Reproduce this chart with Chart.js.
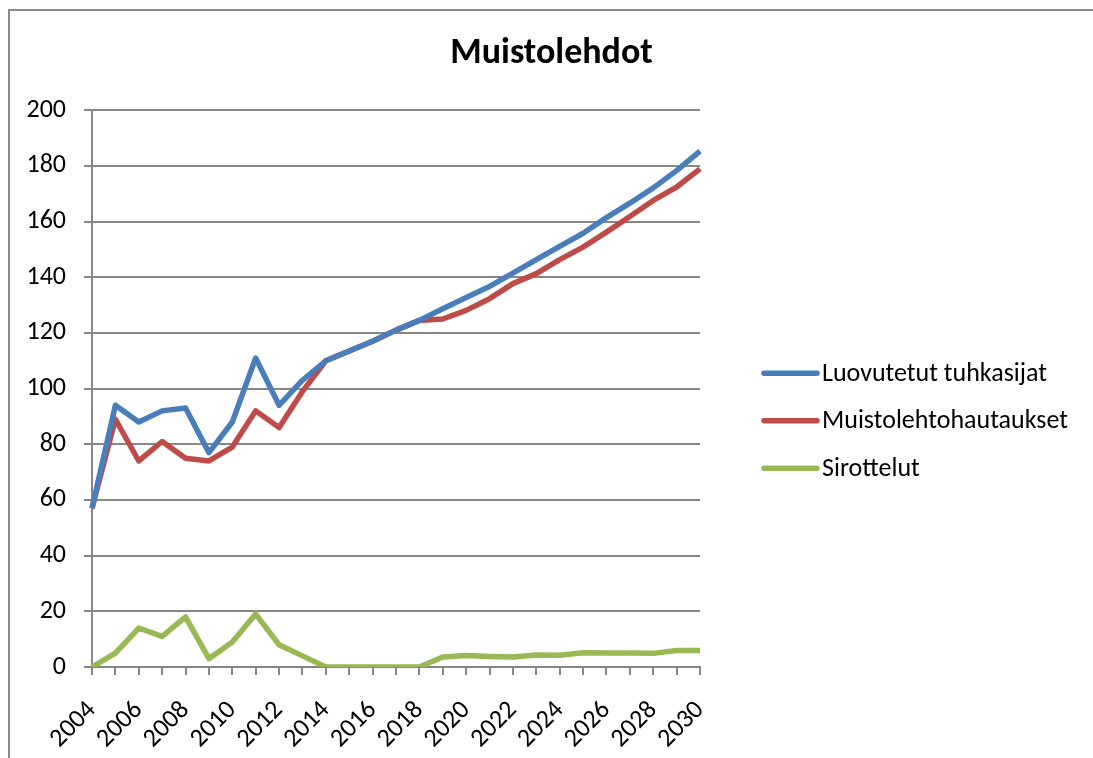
<!DOCTYPE html>
<html lang="fi">
<head>
<meta charset="UTF-8">
<script src="https://cdn.jsdelivr.net/npm/chart.js"></script>
<title>Muistolehdot</title>
<style>
    body { margin: 0; background: #fff; }
    .kehys {
        position: absolute; left: 8px; top: 9px; width: 1085px; height: 749px;
        border-left: 2px solid #8c8c8c; border-top: 2px solid #8c8c8c;
    }
    .kaavio { position: absolute; left: 10px; top: 11px; width: 1083px; height: 747px; }
</style>
</head>
<body>
<div class="kehys"></div>
<div class="kaavio"><canvas id="myChart"></canvas></div>
<script>
    // vuodet ja sarjat
    const vuodet = ['2004', '2005', '2006', '2007', '2008', '2009', '2010', '2011', '2012', '2013',
        '2014', '2015', '2016', '2017', '2018', '2019', '2020', '2021', '2022', '2023',
        '2024', '2025', '2026', '2027', '2028', '2029', '2030'];

    const tuhkasijat = [57, 94, 88, 92, 93, 77, 88, 111, 94, 103,
        110, 113.5, 117, 121, 124.5, 128.7, 132.7, 136.7, 141.5, 146.3,
        151.1, 155.8, 161.4, 166.6, 172.1, 178.3, 185.3];

    const hautaukset = [57, 89, 74, 81, 75, 74, 79, 92, 86, 99,
        110, 113.5, 117, 121, 124.5, 125, 128.1, 132.3, 137.7, 141.3,
        146.3, 150.8, 156.2, 161.8, 167.6, 172.4, 178.9];

    const sirottelut = [0, 5, 14, 11, 18, 3, 9, 19, 8, 4,
        0, 0, 0, 0, 0, 3.6, 4.1, 3.8, 3.6, 4.3,
        4.2, 5.1, 5.0, 5.0, 4.9, 5.9, 5.9];

    const fontti = 'Carlito, Calibri, Lato, sans-serif';
    const harmaa = '#878787';

    // selite oikealle, piirretään itse
    const selite = {
        id: 'selite',
        afterDraw(chart) {
            const ctx = chart.ctx;
            const a = chart.chartArea;
            ctx.save();
            ctx.font = '26px ' + fontti;
            ctx.textBaseline = 'middle';
            chart.data.datasets.forEach(function (ds, i) {
                const y = a.top + 263 + i * 47.5;
                ctx.strokeStyle = ds.borderColor;
                ctx.lineWidth = 5.5;
                ctx.lineCap = 'round';
                ctx.beginPath();
                ctx.moveTo(a.right + 64, y);
                ctx.lineTo(a.right + 117, y);
                ctx.stroke();
                ctx.fillStyle = '#000';
                ctx.fillText(ds.label, a.right + 122, y + 1);
            });
            ctx.restore();
        }
    };

    const dados = {
        labels: vuodet,
        datasets: [
            { label: 'Luovutetut tuhkasijat', data: tuhkasijat, borderColor: '#4a7ebb' },
            { label: 'Muistolehtohautaukset', data: hautaukset, borderColor: '#be4b48' },
            { label: 'Sirottelut', data: sirottelut, borderColor: '#98b954' }
        ]
    };

    const config = {
        type: 'line',
        data: dados,
        options: {
            responsive: true,
            maintainAspectRatio: false,
            animation: false,
            elements: {
                line: { borderWidth: 5.5, tension: 0, borderCapStyle: 'butt', borderJoinStyle: 'round' },
                point: { radius: 0 }
            },
            plugins: {
                legend: { display: false },
                tooltip: { enabled: false },
                title: {
                    display: true,
                    text: 'Muistolehdot',
                    color: '#000',
                    font: { family: fontti, size: 36, weight: 'bold' },
                    padding: { top: 21, bottom: 35 }
                }
            },
            scales: {
                x: {
                    afterFit: function (scale) { scale.height = 91; },
                    grid: { drawOnChartArea: false, drawTicks: true, tickLength: 8, color: harmaa, lineWidth: 2 },
                    border: { color: harmaa, width: 2 },
                    ticks: {
                        autoSkip: false,
                        maxRotation: 45,
                        minRotation: 45,
                        padding: 20,
                        color: '#000',
                        font: { family: fontti, size: 26 },
                        callback: function (val, i) { return i % 2 === 0 ? vuodet[i] : ''; }
                    }
                },
                y: {
                    min: 0,
                    max: 200,
                    afterFit: function (scale) { scale.width = 82; },
                    grid: { color: harmaa, lineWidth: 2, tickLength: 8 },
                    border: { color: harmaa, width: 2 },
                    ticks: {
                        stepSize: 20,
                        padding: 18,
                        color: '#000',
                        font: { family: fontti, size: 26 }
                    }
                },
                // tyhjä tila selitteelle
                tila: {
                    type: 'linear',
                    position: 'right',
                    display: true,
                    afterFit: function (scale) { scale.width = 393; },
                    grid: { display: false },
                    border: { display: false },
                    ticks: { display: false }
                }
            }
        },
        plugins: [selite]
    };

    const myChart = new Chart(document.getElementById('myChart'), config);
</script>
</body>
</html>
